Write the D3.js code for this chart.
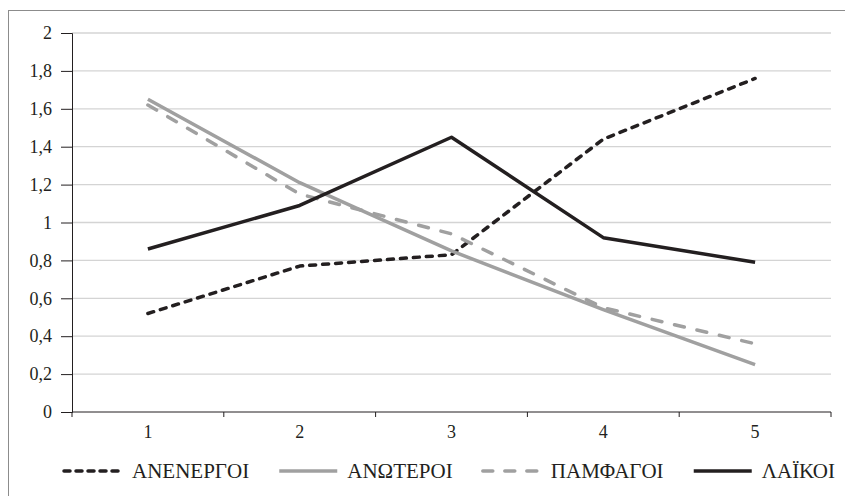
<!DOCTYPE html>
<html><head><meta charset="utf-8">
<script src="https://cdn.jsdelivr.net/npm/d3@7"></script>
<style>body{margin:0;background:#fff}svg{display:block}</style>
</head><body>
<svg id="chart" width="845" height="496"></svg>
<script>
const categories = ["1","2","3","4","5"];
const seriesNames = ["ΑΝΕΝΕΡΓΟΙ","ΑΝΩΤΕΡΟΙ","ΠΑΜΦΑΓΟΙ","ΛΑΪΚΟΙ"];
const anenergoi = [0.52, 0.77, 0.83, 1.44, 1.76];
const anoteroi  = [1.65, 1.21, 0.85, 0.54, 0.25];
const pamfagoi  = [1.62, 1.15, 0.94, 0.55, 0.36];
const laikoi    = [0.86, 1.09, 1.45, 0.92, 0.79];
const yTicks = [0,0.2,0.4,0.6,0.8,1,1.2,1.4,1.6,1.8,2];

const series = [
  {name: seriesNames[0], values: anenergoi, color:"#231f20", dash:"6,7"},
  {name: seriesNames[1], values: anoteroi,  color:"#a0a0a0", dash:null},
  {name: seriesNames[2], values: pamfagoi,  color:"#a0a0a0", dash:"10,13"},
  {name: seriesNames[3], values: laikoi,    color:"#231f20", dash:null}
];

const svg = d3.select("#chart");
const font = "'Liberation Serif','Times New Roman',serif";
const L = 72, R = 831, T = 33, B = 412;

svg.append("rect").attr("x",8.5).attr("y",10.5).attr("width",900).attr("height",600)
  .attr("fill","none").attr("stroke","#8c8c8c").attr("stroke-width",1);

const x = d3.scaleBand().domain(categories).range([L,R]).padding(0);
const y = d3.scaleLinear().domain([0,2]).range([B,T]);

// gridlines
svg.append("g").selectAll("line").data(yTicks.filter(d=>d>0)).join("line")
  .attr("x1",L).attr("x2",R).attr("y1",d=>y(d)).attr("y2",d=>y(d))
  .attr("stroke","#d4d4d4").attr("stroke-width",1.3);

// y axis
const yAxis = d3.axisLeft(y).tickValues(yTicks).tickSize(11).tickPadding(9)
  .tickFormat(d=>String(d).replace(".",","));
const gy = svg.append("g").attr("transform",`translate(${L},0)`).call(yAxis);
gy.select(".domain").attr("stroke","#231f20");
gy.selectAll(".tick line").attr("stroke","#231f20");
gy.selectAll("text").attr("font-family",font).attr("font-size",18).attr("fill","#231f20");

// x axis
const gx = svg.append("g").attr("transform",`translate(0,${B})`);
gx.append("line").attr("x1",L).attr("x2",R).attr("y1",0).attr("y2",0).attr("stroke","#231f20");
const bounds = categories.map(c=>x(c)).concat([R]);
gx.selectAll("line.tk").data(bounds).join("line").attr("class","tk")
  .attr("x1",d=>d).attr("x2",d=>d).attr("y1",0).attr("y2",5).attr("stroke","#231f20");
gx.selectAll("text").data(categories).join("text")
  .attr("x",d=>x(d)+x.bandwidth()/2).attr("y",26).attr("text-anchor","middle")
  .attr("font-family",font).attr("font-size",18).attr("fill","#231f20").text(d=>d);

// lines
const line = d3.line().x((d,i)=>x(categories[i])+x.bandwidth()/2).y(d=>y(d));
svg.append("g").selectAll("path").data(series).join("path")
  .attr("d",d=>line(d.values)).attr("fill","none")
  .attr("stroke",d=>d.color).attr("stroke-width",3.5)
  .attr("stroke-dasharray",d=>d.dash)
  .attr("stroke-linecap",d=>d.dash?"round":"butt")
  .attr("stroke-linejoin","round");

// legend
const ly = 471;
const lg = svg.append("g");
const items = lg.selectAll("g").data(series).join("g");
items.append("line").attr("x1",0).attr("x2",58).attr("y1",0).attr("y2",0)
  .attr("stroke",d=>d.color).attr("stroke-width",3.5)
  .attr("stroke-dasharray",d=>d.dash ? (d.dash==="6,7"?"6,6":"10,12") : null)
  .attr("stroke-linecap",d=>d.dash?"round":"butt");
items.append("text").attr("x",68).attr("y",7)
  .attr("font-family",font).attr("font-size",21).attr("fill","#231f20").text(d=>d.name);
const widths = [];
items.each(function(){ widths.push(68 + d3.select(this).select("text").node().getComputedTextLength()); });
const startX = 64, endX = 835;
const totalW = d3.sum(widths);
const gap = (endX - startX - totalW) / (series.length - 1);
let cx = startX;
items.each(function(d,i){ d3.select(this).attr("transform",`translate(${cx},${ly})`); cx += widths[i] + gap; });
</script>
</body></html>
